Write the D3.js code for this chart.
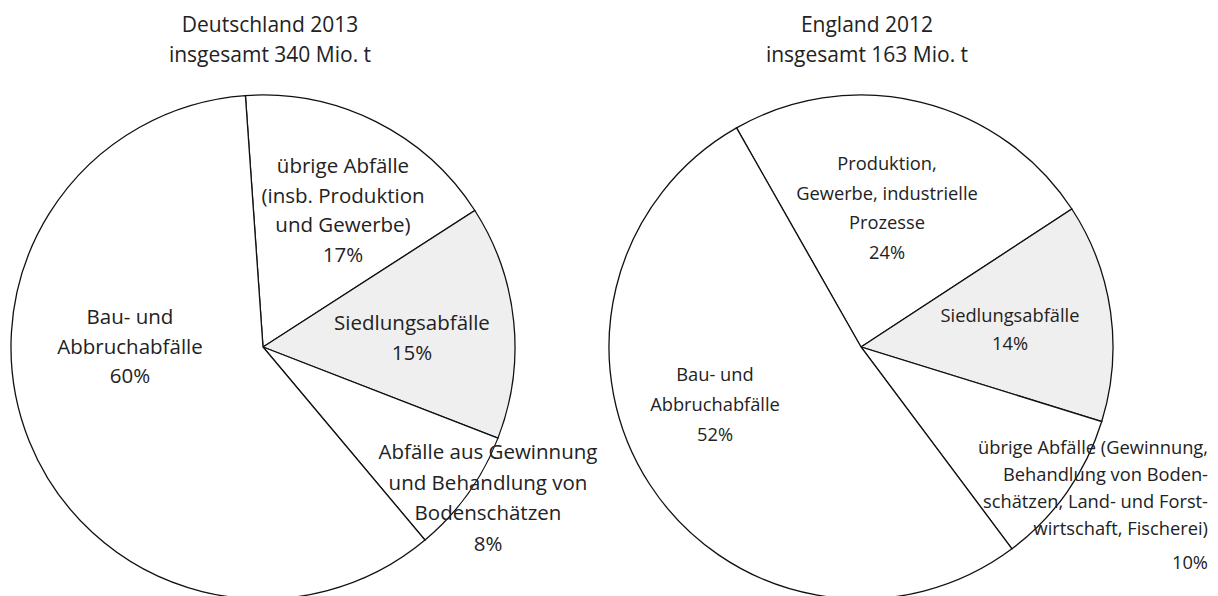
<html>
<head>
<meta charset="utf-8">
<script src="https://d3js.org/d3.v7.min.js"></script>
<style>
  body { margin: 0; background: #fff; }
  text { font-family: "Open Sans", sans-serif; fill: #222; }
  path { stroke: #111; stroke-width: 1.3; }
</style>
</head>
<body>
<svg width="1218" height="596"></svg>
<script>
// data
var deTitle = ["Deutschland 2013", "insgesamt 340 Mio. t"];
var deLabels = [
  ["übrige Abfälle", "(insb. Produktion", "und Gewerbe)"],
  ["Siedlungsabfälle"],
  ["Abfälle aus Gewinnung", "und Behandlung von", "Bodenschätzen"],
  ["Bau- und", "Abbruchabfälle"]
];
var deValues = [17, 15, 8, 60];

var enTitle = ["England 2012", "insgesamt 163 Mio. t"];
var enLabels = [
  ["Produktion,", "Gewerbe, industrielle", "Prozesse"],
  ["Siedlungsabfälle"],
  ["übrige Abfälle (Gewinnung,", "Behandlung von Boden-", "schätzen, Land- und Forst-", "wirtschaft, Fischerei)"],
  ["Bau- und", "Abbruchabfälle"]
];
var enValues = [24, 14, 10, 52];

// fill: only the Siedlungsabfälle slice is shaded
var fills = ["#fff", "#efefef", "#fff", "#fff"];

var radius = 252;
var svg = d3.select("svg");

// label layout relative to pie centre: [dx, dy of first baseline, line height, anchor, extra gap before %]
var charts = [
  { cx: 263, cy: 347, start: -4, title: deTitle, titleX: 270, labels: deLabels, values: deValues, size: 20.5,
    layout: [[80, -174, 29.5, "middle", 0], [149, -17, 30, "middle", 0], [225, 112, 30.5, "middle", 0], [-133, -23, 29.5, "middle", 0]] },
  { cx: 861, cy: 347, start: -29.6, title: enTitle, titleX: 867, labels: enLabels, values: enValues, size: 18.3,
    layout: [[26, -177, 29.5, "middle", 0], [149, -25, 28, "middle", 0], [347, 107, 27, "end", 7], [-146, 34, 30, "middle", 0]] }
];

charts.forEach(function(c) {
  var a0 = c.start * Math.PI / 180;
  var pie = d3.pie().sort(null).startAngle(a0).endAngle(a0 + 2 * Math.PI);
  var arc = d3.arc().innerRadius(0).outerRadius(radius);

  var g = svg.append("g").attr("transform", "translate(" + c.cx + "," + c.cy + ")");
  g.selectAll("path")
    .data(pie(c.values))
    .enter()
    .append("path")
      .attr("d", arc)
      .attr("fill", function(d, i) { return fills[i]; });

  // slice labels
  c.labels.forEach(function(lines, i) {
    var L = c.layout[i];
    var t = g.append("text")
      .attr("text-anchor", L[3])
      .style("font-size", c.size + "px");
    var all = lines.concat([c.values[i] + "%"]);
    all.forEach(function(s, j) {
      var y = L[1] + j * L[2] + (j == all.length - 1 ? L[4] : 0);
      t.append("tspan").attr("x", L[0]).attr("y", y).text(s);
    });
  });

  // title
  c.title.forEach(function(s, j) {
    svg.append("text")
      .attr("x", c.titleX)
      .attr("y", 32 + j * 30)
      .attr("text-anchor", "middle")
      .style("font-size", "21px")
      .text(s);
  });
});
</script>
</body>
</html>
